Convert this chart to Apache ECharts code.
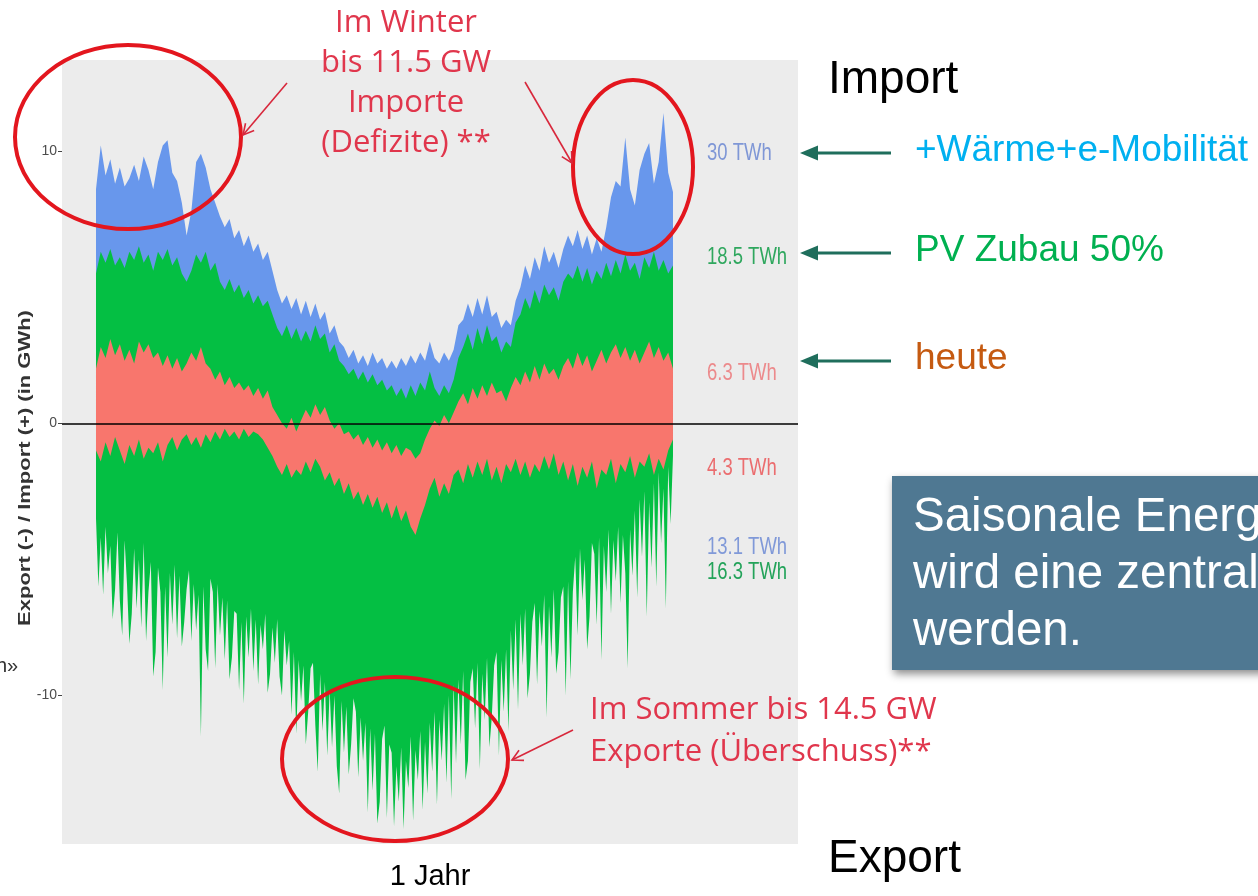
<!DOCTYPE html>
<html>
<head>
<meta charset="utf-8">
<script src="https://cdn.jsdelivr.net/npm/echarts@6/dist/echarts.min.js"></script>
<style>
  html, body { margin: 0; padding: 0; background: #ffffff; }
  #chart { width: 1258px; height: 896px; }
</style>
</head>
<body>
<div id="chart"></div>
<script>
// Hourly import/export balance over one year, drawn as envelopes (GW).
// Upper/lower envelopes sampled every 3 days; green lower envelope every 1.5 days.
const STEP = 3;
const STEP_FINE = 1.5;

// +Wärme+e-Mobilität scenario (blue), upper envelope
const blueUp = [
  8.6,10.2,9.1,9.7,8.8,9.4,8.7,9.0,9.5,8.9,
  9.8,9.3,8.6,9.6,10.2,10.4,9.2,8.9,8.1,6.9,
  7.8,9.6,9.9,9.4,8.6,8.1,7.6,7.2,7.5,6.8,
  7.1,6.5,6.9,6.3,6.6,6.0,6.3,5.6,4.9,4.4,
  4.7,4.2,4.6,4.0,4.5,3.9,4.4,3.8,4.1,3.3,
  3.6,3.0,2.8,2.4,2.7,2.2,2.5,2.1,2.6,2.2,
  2.4,2.0,2.3,2.0,2.4,2.1,2.5,2.2,2.6,2.3,
  3.0,2.4,2.2,2.6,2.3,2.7,3.6,3.8,4.4,3.9,
  4.6,4.0,4.7,3.9,4.1,3.5,3.8,3.6,4.5,5.0,
  5.8,5.3,6.1,5.6,6.5,5.9,6.3,5.7,6.4,6.9,
  6.5,7.1,6.4,6.9,6.2,6.8,6.3,7.2,8.3,8.9,
  8.7,10.5,8.6,8.0,9.3,9.9,10.3,8.8,9.6,11.4,
  9.2,8.5
];

// PV Zubau 50% scenario (green), upper envelope
const greenUp = [
  5.5,6.3,5.9,6.4,5.8,6.1,5.7,6.3,6.0,6.5,
  5.9,6.2,5.6,6.3,6.0,6.4,5.8,6.1,5.5,5.2,
  5.6,6.2,5.9,6.3,5.6,5.9,5.2,4.9,5.3,4.8,
  5.1,4.6,4.9,4.4,4.7,4.3,4.5,4.0,3.5,3.2,
  3.6,3.1,3.5,3.0,3.4,3.0,3.6,3.1,3.3,2.6,
  2.9,2.3,2.1,1.8,2.0,1.6,1.9,1.5,1.8,1.4,
  1.6,1.2,1.4,1.0,1.3,0.9,1.4,1.0,1.5,1.2,
  1.9,1.3,1.0,1.4,1.1,1.6,2.4,2.8,3.3,2.7,
  3.5,2.9,3.6,3.0,3.2,2.6,3.0,2.8,3.7,4.0,
  4.6,4.2,4.9,4.4,5.1,4.7,5.0,4.5,5.2,5.5,
  5.3,5.8,5.2,5.7,5.1,5.6,5.3,5.9,5.4,6.0,
  5.5,6.2,5.6,5.9,5.3,6.1,5.7,6.3,5.6,6.0,
  5.5,5.8
];

// PV Zubau 50% scenario (green), lower envelope (exports)
const greenLow = [
  -3.5,-6.0,-4.2,-6.3,-3.8,-5.5,
  -4.5,-7.2,-6.1,-4.0,-6.5,-7.8,-4.3,-5.9,-8.1,-7.0,-4.6,-6.8,-5.0,-7.5,-4.4,-8.0,-6.2,
  -5.1,-9.3,-8.4,-5.3,-6.2,-9.8,-6.0,-8.6,-5.5,-7.4,
  -5.2,-7.9,-5.6,-8.2,-7.3,-6.1,-5.4,-8.0,-5.9,-7.6,-6.3,-11.5,-6.0,-8.3,-9.1,-5.7,-6.2,-9.0,-5.9,-7.8,-6.4,
  -8.7,-6.5,-9.4,-8.6,-6.9,-7.0,-9.8,-7.3,-10.3,-7.1,-8.6,-6.8,-9.1,-7.2,
  -9.6,-7.4,-8.3,-7.0,-9.9,-9.2,-7.5,-8.8,-7.2,-9.3,-10.0,-7.6,-8.9,-8.0,
  -10.7,-8.4,-11.4,-8.7,-10.2,-8.9,-11.8,-10.6,-9.0,-8.8,-11.1,-12.8,-9.2,-11.3,
  -9.5,-12.2,-9.8,-11.9,-10.0,-12.6,-13.6,-10.2,-12.1,-10.4,-12.9,-11.8,-10.1,-10.6,
  -13.0,-10.8,-12.4,-11.0,-14.3,-11.2,-13.5,-11.4,-14.7,-13.9,-11.6,-11.1,-14.5,-11.8,
  -12.1,-14.8,-12.6,-13.9,-11.9,-14.9,-12.4,-13.4,-11.5,-14.6,-12.0,-13.1,-11.3,-14.2,-11.7,-13.6,-11.0,-12.8,-10.6,-14.0,-10.9,-12.4,-10.3,-13.2,
  -10.0,-13.8,-9.6,-12.5,-9.4,-11.8,-9.1,-13.1,-12.4,-9.5,-9.0,-11.2,-8.8,-12.7,-9.2,-10.9,-8.6,-11.9,-10.8,-8.9,-8.4,-12.2,-8.7,-10.6,-8.3,
  -11.3,-7.6,-9.8,-7.2,-10.5,-7.0,-8.9,-6.8,-10.1,-9.2,-7.3,-6.6,-9.6,-6.9,-8.2,-6.3,-10.8,-6.7,-8.6,-6.1,-9.2,-8.4,-6.4,-6.0,-10.0,-5.8,-9.4,-6.2,
  -4.9,-7.8,-4.6,-6.5,-5.0,-8.3,-7.1,-4.4,-4.8,-7.4,-4.2,-8.7,-4.5,-6.2,-3.9,-7.0,-4.3,-5.8,-3.8,-6.6,-4.1,-5.5,-9.0,-3.9,
  -5.6,-3.2,-6.4,-2.8,-4.9,-2.5,-7.1,-2.9,-5.3,-2.2,-6.0,-1.8,-4.4,-2.4,-6.8,-1.6,-3.7,-1.2
];

// heute (salmon), upper and lower envelopes
const salmonUp = [
  2.0,2.8,2.4,3.1,2.5,2.9,2.3,2.7,2.2,3.0,
  2.6,2.9,2.4,2.6,2.1,2.5,2.0,2.4,1.9,2.2,
  2.6,2.3,2.8,2.2,2.0,1.6,1.9,1.4,1.7,1.3,
  1.5,1.2,1.4,1.0,1.3,0.9,1.2,0.6,0.3,0.0,
  -0.2,0.2,-0.3,0.1,0.5,0.2,0.7,0.3,0.6,0.1,
  -0.2,0.0,-0.4,-0.3,-0.6,-0.4,-0.8,-0.5,-0.9,-0.6,
  -1.0,-0.7,-1.1,-0.8,-1.2,-0.9,-1.0,-1.3,-1.1,-0.6,
  -0.2,0.1,-0.1,0.3,0.0,0.4,0.8,1.1,0.7,1.3,
  0.9,1.4,1.0,1.5,1.1,1.2,0.8,1.3,1.7,1.4,
  1.9,1.5,2.1,1.6,2.2,1.8,2.0,1.6,2.1,2.4,
  2.0,2.6,2.1,2.5,1.9,2.3,2.7,2.2,2.6,2.9,
  2.4,2.8,2.3,2.7,2.2,2.6,3.0,2.4,2.8,2.3,
  2.6,2.0
];
const salmonLow = [
  -1.0,-1.4,-0.7,-1.2,-0.5,-1.0,-1.5,-0.8,-1.2,-0.6,
  -1.3,-0.9,-1.1,-0.7,-1.4,-0.8,-0.5,-1.0,-0.6,-0.4,
  -0.8,-0.5,-0.9,-0.4,-0.7,-0.3,-0.6,-0.2,-0.5,-0.3,
  -0.6,-0.2,-0.5,-0.3,-0.4,-0.6,-0.9,-1.2,-1.6,-1.9,
  -1.5,-2.0,-1.7,-1.9,-1.4,-1.8,-1.3,-1.6,-2.1,-1.8,
  -2.3,-2.0,-2.6,-2.2,-2.8,-2.5,-3.0,-2.6,-3.1,-2.7,
  -3.3,-2.9,-3.5,-3.0,-3.6,-3.2,-3.8,-4.1,-3.5,-3.0,
  -2.4,-2.0,-2.7,-2.2,-2.6,-1.9,-1.7,-2.2,-1.5,-2.0,
  -1.4,-1.9,-1.3,-2.1,-1.6,-2.2,-1.5,-1.8,-1.3,-1.9,
  -1.4,-2.0,-1.5,-1.8,-1.2,-1.7,-1.1,-1.9,-1.4,-2.1,
  -1.5,-2.3,-1.6,-2.0,-1.4,-2.4,-1.7,-1.9,-1.3,-2.2,
  -1.5,-1.8,-1.2,-2.0,-1.4,-1.6,-1.1,-1.9,-1.3,-1.7,
  -1.0,-0.6
];

// Axis tick values and annotation texts
const yTicks = [-10, 0, 10];
const twhLabels = [
  { text: '30 TWh',   y: 153, color: '#7f97d6' },
  { text: '18.5 TWh', y: 257, color: '#2fa75e' },
  { text: '6.3 TWh',  y: 373, color: '#ec8a8c' },
  { text: '4.3 TWh',  y: 468, color: '#eb6d6f' },
  { text: '13.1 TWh', y: 547, color: '#8099d8' },
  { text: '16.3 TWh', y: 572, color: '#23a35a' }
];
const scenarioLabels = [
  { text: '+Wärme+e-Mobilität', y: 151, color: '#00b0f0' },
  { text: 'PV Zubau 50%',       y: 251, color: '#00b050' },
  { text: 'heute',              y: 359, color: '#c55a11' }
];

const pairs = (arr, step) => arr.map((v, i) => [i * step, v]);
const salmonRows = salmonUp.map((v, i) => [i * STEP, salmonLow[i], v]);

const BLUE = '#6897ec';
const GREEN = '#04bf43';
const SALMON = '#f8766d';
const RING = '#e3161e';
const RED_TXT = '#e0364c';
const TEAL = '#1f6e5c';
const SANS = '"Liberation Sans", Arial, sans-serif';

function chevron(x1, y1, x2, y2, len, deg) {
  const a = Math.atan2(y2 - y1, x2 - x1);
  const r = deg * Math.PI / 180;
  return [
    [x2 - len * Math.cos(a - r), y2 - len * Math.sin(a - r)],
    [x2, y2],
    [x2 - len * Math.cos(a + r), y2 - len * Math.sin(a + r)]
  ];
}

function redArrow(x1, y1, x2, y2) {
  return [
    { type: 'line', shape: { x1, y1, x2, y2 }, style: { stroke: '#d8283c', lineWidth: 1.6 }, z: 100 },
    { type: 'polyline', shape: { points: chevron(x1, y1, x2, y2, 12, 28) },
      style: { stroke: '#d8283c', lineWidth: 1.6, fill: null }, z: 100 }
  ];
}

function tealArrow(y) {
  return [
    { type: 'line', shape: { x1: 891, y1: y, x2: 812, y2: y }, style: { stroke: TEAL, lineWidth: 3 }, z: 100 },
    { type: 'polygon', shape: { points: [[800, y], [818, y - 7.5], [818, y + 7.5]] }, style: { fill: TEAL }, z: 100 }
  ];
}

function plainText(x, y, text, font, color, extra) {
  return Object.assign({
    type: 'text', x, y, z: 110,
    style: { text, font, fill: color, align: 'left', verticalAlign: 'middle',
             textAlign: 'left', textVerticalAlign: 'middle' }
  }, extra || {});
}

const graphics = [];

// red rings around the extremes
graphics.push({ type: 'ellipse', shape: { cx: 128, cy: 137, rx: 113, ry: 92 },
  style: { fill: null, stroke: RING, lineWidth: 4 }, z: 100 });
graphics.push({ type: 'ellipse', shape: { cx: 633, cy: 167, rx: 60, ry: 87 },
  style: { fill: null, stroke: RING, lineWidth: 4 }, z: 100 });
graphics.push({ type: 'ellipse', shape: { cx: 395, cy: 759, rx: 113, ry: 82 },
  style: { fill: null, stroke: RING, lineWidth: 4 }, z: 100 });

graphics.push(...redArrow(287, 83, 243, 135));
graphics.push(...redArrow(525, 82, 572, 163));
graphics.push(...redArrow(573, 730, 512, 760));

graphics.push({
  type: 'text', x: 406, y: 83, z: 110,
  style: { text: 'Im Winter\nbis 11.5 GW\nImporte\n(Defizite) **',
           font: '31px "Open Sans", sans-serif', fill: RED_TXT, lineHeight: 40,
           align: 'center', verticalAlign: 'middle', textAlign: 'center', textVerticalAlign: 'middle' }
});
graphics.push({
  type: 'text', x: 590, y: 731, z: 110,
  style: { text: 'Im Sommer bis 14.5 GW\nExporte (Überschuss)**',
           font: '31px "Open Sans", sans-serif', fill: RED_TXT, lineHeight: 42,
           align: 'left', verticalAlign: 'middle', textAlign: 'left', textVerticalAlign: 'middle' }
});

// TWh totals beside the plot (condensed)
twhLabels.forEach(l => {
  graphics.push(plainText(707, l.y, l.text, '24px ' + SANS, l.color, { scaleX: 0.77 }));
});

// scenario arrows and names
scenarioLabels.forEach(l => {
  graphics.push(...tealArrow(l.y + 2));
  graphics.push(plainText(915, l.y, l.text, '37px ' + SANS, l.color));
});

graphics.push(plainText(828, 80, 'Import', '46px ' + SANS, '#000000'));
graphics.push(plainText(828, 859, 'Export', '46px ' + SANS, '#000000'));

// y-axis title (rotated, narrowed)
graphics.push({
  type: 'text', x: 25, y: 468, rotation: Math.PI / 2, scaleY: 0.75, z: 110,
  style: { text: 'Export (-) / Import (+) (in GWh)', font: 'bold 22px ' + SANS, fill: '#333333',
           align: 'center', verticalAlign: 'middle', textAlign: 'center', textVerticalAlign: 'middle' }
});
graphics.push(plainText(-4, 666, 'h»', '20px ' + SANS, '#333333'));

// message box
graphics.push({
  type: 'rect', shape: { x: 892, y: 476, width: 380, height: 194 }, z: 105,
  style: { fill: '#4f7892', shadowBlur: 8, shadowOffsetX: 2, shadowOffsetY: 4, shadowColor: 'rgba(0,0,0,0.45)' }
});
graphics.push({
  type: 'text', x: 913, y: 575, z: 110,
  style: { text: 'Saisonale Energiespeicherung\nwird eine zentrale Aufgabe\nwerden.',
           font: '47.5px ' + SANS, fill: '#ffffff', lineHeight: 57,
           align: 'left', verticalAlign: 'middle', textAlign: 'left', textVerticalAlign: 'middle' }
});

const areaSeries = (name, data, color, extra) => Object.assign({
  name, type: 'line', data, showSymbol: false, symbol: 'none', smooth: false,
  lineStyle: { width: 0, opacity: 0 }, areaStyle: { color, opacity: 1 }, silent: true, z: 2
}, extra || {});

const chart = echarts.init(document.getElementById('chart'), null, { renderer: 'canvas' });
chart.setOption({
  animation: false,
  backgroundColor: '#ffffff',
  grid: { left: 62, right: 460, top: 60, bottom: 44, show: true, backgroundColor: '#ececec', borderWidth: 0 },
  xAxis: {
    type: 'value', min: -21.39, max: 441.65,
    axisLine: { show: false }, axisTick: { show: false }, axisLabel: { show: false }, splitLine: { show: false },
    name: '1 Jahr', nameLocation: 'middle', nameGap: 18,
    nameTextStyle: { fontSize: 29, color: '#000000', fontFamily: SANS }
  },
  yAxis: {
    type: 'value', min: -15.4545, max: 13.345,
    axisLine: { show: false, onZero: false },
    axisTick: { show: true, length: 4, customValues: yTicks, lineStyle: { color: '#444444', width: 1 } },
    axisLabel: { show: true, customValues: yTicks, fontSize: 14, color: '#4d4d4d', margin: 5, fontFamily: SANS },
    splitLine: { show: false }
  },
  series: [
    areaSeries('+Wärme+e-Mobilität', pairs(blueUp, STEP), BLUE),
    areaSeries('PV Zubau 50% (Import)', pairs(greenUp, STEP), GREEN),
    areaSeries('PV Zubau 50% (Export)', pairs(greenLow, STEP_FINE), GREEN),
    {
      name: 'heute', type: 'custom', silent: true, z: 3,
      data: salmonRows,
      encode: { x: 0, y: [1, 2] },
      renderItem(params, api) {
        if (params.dataIndex !== 0) return null;
        const pts = [];
        for (let i = 0; i < salmonRows.length; i++) pts.push(api.coord([salmonRows[i][0], salmonRows[i][2]]));
        for (let i = salmonRows.length - 1; i >= 0; i--) pts.push(api.coord([salmonRows[i][0], salmonRows[i][1]]));
        return { type: 'polygon', shape: { points: pts }, style: { fill: SALMON } };
      },
      markLine: {
        silent: true, symbol: ['none', 'none'], label: { show: false }, z: 6,
        lineStyle: { color: '#000000', width: 1.6, type: 'solid' },
        data: [{ yAxis: 0 }]
      }
    }
  ],
  graphic: { elements: graphics }
});
</script>
</body>
</html>
